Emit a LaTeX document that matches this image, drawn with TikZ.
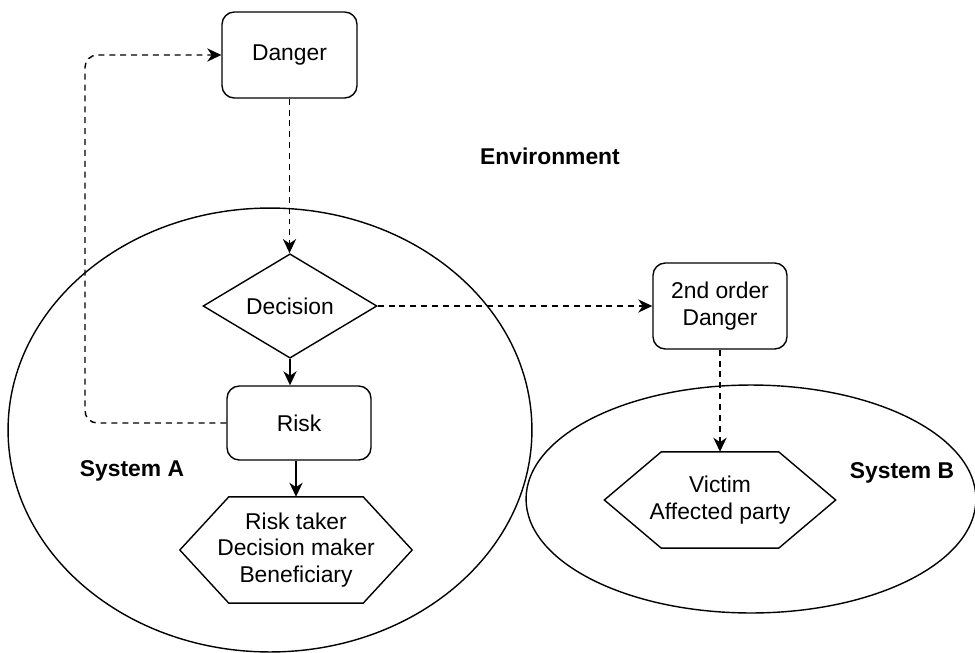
\documentclass[tikz,border=0pt]{standalone}
\usepackage{fontspec}
\setmainfont{Liberation Sans}
\usetikzlibrary{shapes.geometric,arrows.meta}

\begin{document}
\begin{tikzpicture}[x=0.02cm, y=-0.02cm, line width=0.8pt, every node/.style={font=\fontsize{13}{15.3}\selectfont, align=center, inner sep=0pt},
	box/.style={draw, rounded corners=7pt, minimum width=2.7cm, minimum height=1.72cm},
	dec/.style={draw, diamond, minimum width=3.48cm, minimum height=1.84cm},
	hex/.style={rectangle},
	sys/.style={draw, ellipse},
	lbl/.style={font=\fontsize{13}{15.3}\selectfont\bfseries},
	arr/.style={-{Stealth[length=8pt, width=7.5pt, inset=2.5pt]}},
	dline/.style={arr, dash pattern=on 3.4pt off 2.8pt}]
	\useasboundingbox (0,0) rectangle (975,653);
	\node[sys, minimum width=10.48cm, minimum height=8.88cm] (sysA) at (270,430) {};
	\node[sys, minimum width=9cm, minimum height=4.56cm] (sysB) at (751,499) {};
	\node[box] (danger) at (289.5,55) {Danger};
	\node[dec] (decision) at (290,306) {Decision};
	\node[box, minimum width=2.88cm, minimum height=1.48cm] (risk) at (299,423) {Risk};
	\node[hex, minimum width=4.62cm, minimum height=2.1cm] (taker) at (296,550) {Risk taker\\Decision maker\\Beneficiary};
	\draw ([xshift=0.98cm]taker.north west) -- ([xshift=-0.98cm]taker.north east) -- (taker.east) -- ([xshift=-0.98cm]taker.south east) -- ([xshift=0.98cm]taker.south west) -- (taker.west) -- cycle;
	\node[box, minimum width=2.68cm] (second) at (720,306) {2nd order\\Danger};
	\node[hex, minimum width=4.6cm, minimum height=1.9cm] (victim) at (720,500) {Victim\\Affected party};
	\draw ([xshift=1.14cm]victim.north west) -- ([xshift=-1.14cm]victim.north east) -- (victim.east) -- ([xshift=-1.14cm]victim.south east) -- ([xshift=1.14cm]victim.south west) -- (victim.west) -- cycle;
	\node[lbl] (env) at (550,156) {Environment};
	\node[lbl] (labA) at (132,471) {System A};
	\node[lbl] (labB) at (902,473) {System B};
	\coordinate (loop) at (85,240);
	\draw[dline] (danger.south) -- (danger.south |- decision.north);
	\draw[arr] (decision.south) -- (decision.south |- risk.north);
	\draw[arr] (taker.north |- risk.south) -- (taker.north);
	\draw[dline] (decision.east) -- (second.west);
	\draw[dline] (second.south) -- (victim.north);
	\draw[dline, rounded corners=7pt] (risk.west) -| (loop) |- (danger.west);
\end{tikzpicture}
\end{document}
